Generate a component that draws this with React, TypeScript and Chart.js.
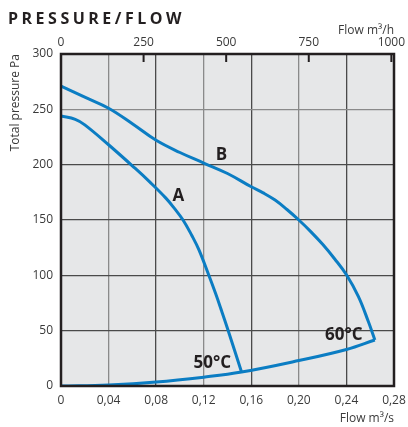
import React, { useEffect, useRef } from "react";
import { Chart, registerables } from "chart.js";

Chart.register(...registerables);

// Flow in m3/s, pressure in Pa
const curveA_x = [0, 0.012, 0.02, 0.04, 0.062, 0.075, 0.088, 0.095, 0.1026, 0.11, 0.116, 0.1243, 0.13, 0.135, 0.14, 0.1518];
const curveA_y = [244, 241, 236, 218, 197, 184, 170, 161, 150, 136, 123, 100, 83.5, 68, 52, 12.6];

const curveB_x = [0, 0.02, 0.04, 0.06, 0.08, 0.1, 0.12, 0.14, 0.16, 0.17, 0.18, 0.19, 0.2, 0.21, 0.22, 0.23, 0.24, 0.25, 0.2585, 0.2639];
const curveB_y = [271, 261, 251, 237, 222, 211, 201.5, 192, 180, 174.5, 168, 159.5, 150, 139.5, 128, 115, 100.5, 81, 58, 41.6];

const system_x = [0, 0.04, 0.08, 0.12, 0.1518, 0.2, 0.24, 0.2639];
const system_y = [0, 1, 3.6, 8, 12.6, 23, 33, 41.6];

const xTicks = [0, 0.04, 0.08, 0.12, 0.16, 0.2, 0.24, 0.28];
const yTicks = [0, 50, 100, 150, 200, 250, 300];
const topTicks = [0, 250, 500, 750, 1000];

const curveLabels = ["A", "B", "50°C", "60°C"];
const curveLabelX = [0.0987, 0.135, 0.1273, 0.2378];
const curveLabelY = [171.5, 209, 21, 46];

const BLUE = "#0b7dc3";
const DARK = "#231f20";
const TEXT = "#3a3a3a";
const FONT = "'Open Sans', 'Noto Sans', sans-serif";

const pts = (xs: number[], ys: number[]) => xs.map((x, i) => ({ x, y: ys[i] }));

const framePlugin = {
  id: "framePlugin",
  beforeDraw(chart: any) {
    const { ctx, chartArea: a } = chart;
    ctx.save();
    ctx.fillStyle = "#e6e7e8";
    ctx.fillRect(a.left, a.top, a.right - a.left, a.bottom - a.top);
    ctx.restore();
  },
  afterDatasetsDraw(chart: any) {
    const { ctx, scales } = chart;
    ctx.save();
    ctx.fillStyle = DARK;
    ctx.font = `bold 17px ${FONT}`;
    ctx.textAlign = "center";
    ctx.textBaseline = "middle";
    curveLabels.forEach((t, i) => {
      ctx.fillText(t, scales.x.getPixelForValue(curveLabelX[i]), scales.y.getPixelForValue(curveLabelY[i]));
    });
    ctx.restore();
  },
  afterDraw(chart: any) {
    const { ctx, chartArea: a, scales } = chart;
    ctx.save();
    ctx.strokeStyle = DARK;
    ctx.lineWidth = 2.5;
    ctx.strokeRect(a.left, a.top, a.right - a.left, a.bottom - a.top);
    ctx.lineWidth = 2;
    topTicks.forEach((v) => {
      if (v === 0) return;
      const px = Math.min(scales.x2.getPixelForValue(v), a.right - 1);
      ctx.beginPath();
      ctx.moveTo(px, a.top);
      ctx.lineTo(px, a.top + 8);
      ctx.stroke();
    });
    ctx.restore();
  },
};

export default function App() {
  const ref = useRef<HTMLCanvasElement>(null);

  useEffect(() => {
    if (!ref.current) return;
    const lineDs = (label: string, data: any[]) => ({
      label,
      data,
      showLine: true,
      borderColor: BLUE,
      backgroundColor: BLUE,
      borderWidth: 3,
      pointRadius: 0,
      tension: 0.4,
      fill: false,
    });
    const chart = new Chart(ref.current, {
      type: "scatter",
      data: {
        datasets: [
          lineDs("A", pts(curveA_x, curveA_y)),
          lineDs("B", pts(curveB_x, curveB_y)),
          lineDs("System", pts(system_x, system_y)),
        ],
      },
      plugins: [framePlugin],
      options: {
        animation: false,
        responsive: false,
        devicePixelRatio: 1,
        layout: { padding: { left: 0, right: 14, top: 0, bottom: 0 } },
        plugins: { legend: { display: false }, tooltip: { enabled: false }, title: { display: false } },
        scales: {
          x: {
            type: "linear",
            position: "bottom",
            min: 0,
            max: 0.28,
            afterBuildTicks: (s: any) => {
              s.ticks = xTicks.map((v) => ({ value: v }));
            },
            afterFit: (s: any) => {
              s.height = 41;
              s.paddingLeft = 0;
              s.paddingRight = 0;
            },
            ticks: {
              color: TEXT,
              font: { family: FONT, size: 12 },
              padding: 7,
              maxRotation: 0,
              callback: (v: any) => (v === 0 ? "0" : Number(v).toFixed(2).replace(".", ",")),
            },
            grid: {
              drawTicks: false,
              lineWidth: 1.3,
              color: (c: any) => (c.index % 2 === 1 ? "#8a8a8a" : "#4a4a4a"),
            },
            border: { display: false },
            title: {
              display: true,
              text: "Flow m³/s",
              align: "end",
              color: TEXT,
              font: { family: FONT, size: 12 },
              padding: { top: 0, bottom: 1 },
            },
          },
          x2: {
            type: "linear",
            position: "top",
            min: 0,
            max: 1008,
            afterBuildTicks: (s: any) => {
              s.ticks = topTicks.map((v) => ({ value: v }));
            },
            afterFit: (s: any) => {
              s.height = 54;
              s.paddingLeft = 0;
              s.paddingRight = 0;
            },
            ticks: {
              color: TEXT,
              font: { family: FONT, size: 12 },
              padding: 4,
              maxRotation: 0,
              callback: (v: any) => String(v),
            },
            grid: { display: false, drawTicks: false },
            border: { display: false },
            title: {
              display: true,
              text: "Flow m³/h",
              align: "end",
              color: TEXT,
              font: { family: FONT, size: 12 },
              padding: { top: 23, bottom: 0 },
            },
          },
          y: {
            type: "linear",
            min: 0,
            max: 300,
            afterBuildTicks: (s: any) => {
              s.ticks = yTicks.map((v) => ({ value: v }));
            },
            afterFit: (s: any) => {
              s.width = 61;
            },
            ticks: {
              color: TEXT,
              font: { family: FONT, size: 12 },
              padding: 8,
            },
            grid: {
              drawTicks: false,
              lineWidth: 1.3,
              color: (c: any) => (c.tick && c.tick.value === 250 ? "#8a8a8a" : "#4a4a4a"),
            },
            border: { display: false },
            title: {
              display: true,
              text: "Total pressure Pa",
              align: "end",
              color: TEXT,
              font: { family: FONT, size: 12 },
              padding: { top: 8, bottom: 0 },
            },
          },
        },
      },
    });
    return () => chart.destroy();
  }, []);

  return (
    <div style={{ position: "absolute", left: 0, top: 0, width: 408, height: 427, background: "#fff" }}>
      <div
        style={{
          position: "absolute",
          left: 8,
          top: 8,
          lineHeight: "20px",
          fontFamily: FONT,
          fontWeight: 700,
          fontSize: 16,
          letterSpacing: "3.5px",
          color: DARK,
          whiteSpace: "nowrap",
        }}
      >
        PRESSURE/FLOW
      </div>
      <canvas ref={ref} width={408} height={427} style={{ display: "block", width: 408, height: 427 }} />
    </div>
  );
}
